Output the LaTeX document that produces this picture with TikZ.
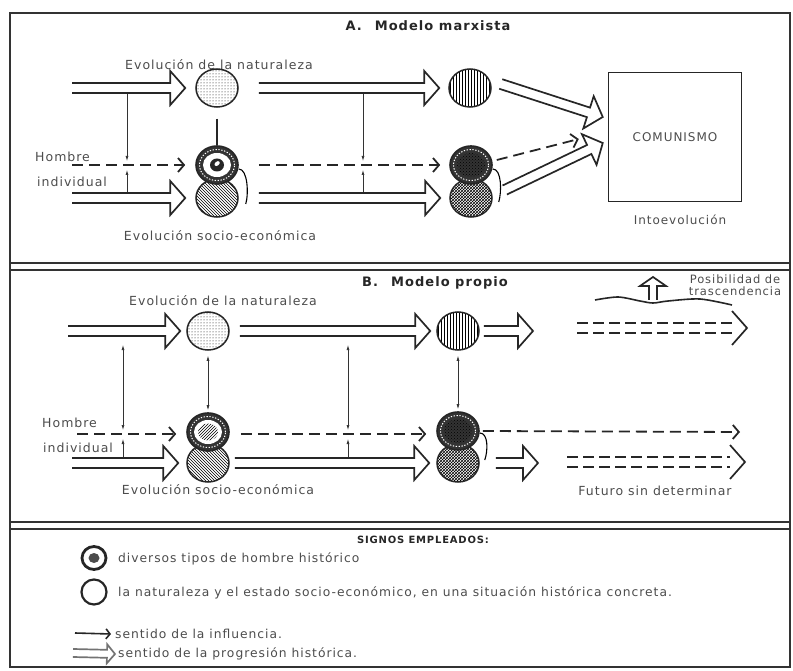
\documentclass[tikz,border=0pt]{standalone}
\usepackage{fontspec}
\setmainfont{DejaVu Sans}[LetterSpace=8]
\usetikzlibrary{arrows.meta,calc,patterns,shapes.geometric}

% open double-lined arrow of the historical progression
\tikzset{
  progdim/.code args={#1/#2/#3}{\def\prgw{#1}\def\prgl{#2}\def\prgW{#3}},
  progdim=5pt/15pt/17pt,
  prog/.style={line width=1.7pt, draw=black!85, to path={
      ($(\tikztostart)!\prgw!90:(\tikztotarget)$)
      -- ($(\tikztotarget)!\prgl!(\tikztostart)!\prgw!90:(\tikztotarget)$)
      -- ($(\tikztotarget)!\prgl!(\tikztostart)!\prgW!90:(\tikztotarget)$)
      -- (\tikztotarget)
      -- ($(\tikztotarget)!\prgl!(\tikztostart)!\prgW!-90:(\tikztotarget)$)
      -- ($(\tikztotarget)!\prgl!(\tikztostart)!\prgw!-90:(\tikztotarget)$)
      -- ($(\tikztostart)!\prgw!-90:(\tikztotarget)$)}},
  progshaft/.style={line width=1.8pt, draw=black!85, dash pattern=on 11pt off 5pt, to path={
      ($(\tikztostart)!\prgw!90:(\tikztotarget)$)
      -- ($(\tikztotarget)!\prgl!(\tikztostart)!\prgw!90:(\tikztotarget)$)
      ($(\tikztostart)!\prgw!-90:(\tikztotarget)$)
      -- ($(\tikztotarget)!\prgl!(\tikztostart)!\prgw!-90:(\tikztotarget)$)}},
  proghead/.style={line width=1.7pt, draw=black!85, to path={
      ($(\tikztotarget)!\prgl!(\tikztostart)!\prgW!90:(\tikztotarget)$)
      -- (\tikztotarget)
      -- ($(\tikztotarget)!\prgl!(\tikztostart)!\prgW!-90:(\tikztotarget)$)}}
}

\newcommand\manring[1]{%
  \draw[white, line width=1pt, dash pattern=on 1.3pt off 1.6pt]
    (#1.center) ellipse [x radius=17.5pt, y radius=15.5pt];}

\begin{document}
\begin{tikzpicture}[x=1pt, y=-1pt,
  frame/.style={line width=1.3pt, draw=black!80},
  lbl/.style={font=\fontsize{12.5}{14}\selectfont, text=black!70, inner sep=0pt},
  ttl/.style={font=\fontsize{13}{15}\selectfont\bfseries, text=black!85, inner sep=0pt},
  key/.style={lbl, font=\fontsize{12.3}{14}\selectfont, anchor=west},
  nat/.style={ellipse, draw=black!85, line width=1.5pt, minimum width=42pt,
              minimum height=38pt, inner sep=0pt},
  man/.style={nat, line width=1.6pt, fill=black!80},
  infl/.style={-{Latex[length=5pt,width=3pt]}, line width=0.7pt, draw=black!80},
  infl2/.style={{Latex[length=5pt,width=3pt]}-{Latex[length=5pt,width=3pt]},
                line width=0.7pt, draw=black!80},
  indiv/.style={line width=1.8pt, draw=black!85, dash pattern=on 11pt off 6pt,
                -{Straight Barb[length=6pt,width=14pt]}}
]
\useasboundingbox (0,0) rectangle (793,671);

%% -- Frame ------------------------------------------------------
\draw[frame] (10,13) rectangle (790,667);
\draw[frame] (10,263) -- (790,263) (10,270) -- (790,270);
\draw[frame] (10,522) -- (790,522) (10,529) -- (790,529);

%% -- A. Modelo marxista -----------------------------------------
\node[ttl] (ttlA) at (428,26) {A.\quad Modelo marxista};
\node[lbl] (labNatA) at (219,65) {Evolución de la naturaleza};
\node[lbl] (labSocA) at (220,236) {Evolución socio-económica};
\node[lbl, anchor=west] (hombreA) at (35,157) {Hombre};
\node[lbl, anchor=west] (indivA) at (37,182) {individual};

\node[nat, pattern=dots] (natA1) at (217,88) {};
\node[nat, pattern=vertical lines] (natA2) at (470,88) {};
\node[nat, pattern=north west lines] (socA1) at (217,198) {};
\node[man] (manA1) at (217,165) {};
\node[nat, pattern=crosshatch] (socA2) at (471,198) {};
\node[man] (manA2) at (471,165) {};

\fill[white] (manA1.center) ellipse [x radius=14pt, y radius=12pt];
\fill[black!85] (manA1.center) ellipse [x radius=7pt, y radius=6.5pt];
\fill[white, rotate around={40:(manA1.center)}] ($(manA1.center)+(1,-1)$) ellipse [x radius=3pt, y radius=2pt];
\manring{manA1}
\fill[pattern=crosshatch dots] (manA2.center) ellipse [x radius=14pt, y radius=12pt];
\manring{manA2}

\node[draw=black!85, line width=1.5pt, minimum width=133pt, minimum height=129pt,
      lbl, font=\fontsize{12}{13}\selectfont] (comun) at (675,137) {COMUNISMO};
\node[lbl, font=\fontsize{12}{13}\selectfont] (intoevo) at (680,220) {Intoevolución};

\coordinate (inNatA) at (72,88);
\coordinate (inManA) at (72,165);
\coordinate (inSocA) at (72,198);
\coordinate (cin1) at ($(comun.west)+(-5,-20)$);
\coordinate (cin2) at ($(comun.west)+(-5,6)$);
\coordinate (cin3) at ($(comun.west)+(-29,2)$);

\draw[prog] (inNatA) to ([xshift=-10pt]natA1.west);
\draw[prog] ([xshift=20pt]natA1.east) to ([xshift=-9pt]natA2.west);
\draw[indiv] (inManA) -- ([xshift=-10pt]manA1.west);
\draw[prog] (inSocA) to ([xshift=-10pt]socA1.west);
\draw[indiv] ([xshift=20pt]manA1.east) -- ([xshift=-9pt]manA2.west);
\draw[prog] ([xshift=20pt]socA1.east) to ([xshift=-9pt]socA2.west);
\draw[prog] ($(natA2.east)+(9,-4)$) to (cin1);
\draw[indiv] ($(manA2.east)+(4,-5)$) -- (cin3);
\draw[prog] ($(socA2.east)+(12,-8)$) to (cin2);

\draw[line width=1.1pt, draw=black!85] ($(natA1.south)+(0,11)$) -- (manA1.north);
\draw[line width=1.1pt] ($(manA1.east)+(0,4)$) .. controls +(9,0) and +(3,-10) .. ($(socA1.east)+(7,6)$);
\draw[line width=1.1pt] ($(manA2.east)+(0,4)$) .. controls +(9,0) and +(3,-10) .. ($(socA2.east)+(6,4)$);

\coordinate (vA1a) at (127,94);  \coordinate (vA1b) at (127,161);
\coordinate (vA1c) at (127,192); \coordinate (vA1d) at (127,170);
\coordinate (vA2a) at (363,94);  \coordinate (vA2b) at (363,161);
\coordinate (vA2c) at (363,192); \coordinate (vA2d) at (363,170);
\draw[infl] (vA1a) -- (vA1b);
\draw[infl] (vA1c) -- (vA1d);
\draw[infl] (vA2a) -- (vA2b);
\draw[infl] (vA2c) -- (vA2d);

%% -- B. Modelo propio -------------------------------------------
\node[ttl] (ttlB) at (435,283) {B.\quad Modelo propio};
\node[lbl] (labNatB) at (223,301) {Evolución de la naturaleza};
\node[lbl] (labSocB) at (218,490) {Evolución socio-económica};
\node[lbl, anchor=west] (hombreB) at (42,423) {Hombre};
\node[lbl, anchor=west] (indivB) at (43,448) {individual};
\node[lbl] (futuro) at (655,491) {Futuro sin determinar};
\node[lbl, align=center, font=\fontsize{11.5}{12.5}\selectfont] (posib) at (735,285)
  {Posibilidad de\\trascendencia};

\node[nat, pattern=dots] (natB1) at (208,331) {};
\node[nat, pattern=vertical lines] (natB2) at (458,331) {};
\node[nat, pattern=north west lines] (socB1) at (208,463) {};
\node[man] (manB1) at (208,432) {};
\node[nat, pattern=crosshatch] (socB2) at (458,463) {};
\node[man] (manB2) at (458,431) {};

\fill[white] (manB1.center) ellipse [x radius=14pt, y radius=12pt];
\fill[pattern=north east lines] (manB1.center) ellipse [x radius=10pt, y radius=8.5pt];
\manring{manB1}
\fill[pattern=crosshatch dots] (manB2.center) ellipse [x radius=14pt, y radius=12pt];
\manring{manB2}

\coordinate (inNatB) at (68,331);
\coordinate (inManB) at (77,434);
\coordinate (inSocB) at (72,463);
\coordinate (outNatB) at (533,331);
\coordinate (outSocB) at (538,463);
\coordinate (trA) at (577,328);  \coordinate (trB) at (747,328);
\coordinate (upA) at (653,300);  \coordinate (upB) at (653,277);
\coordinate (futA) at (740,432);
\coordinate (futB) at (567,462); \coordinate (futC) at (745,462);

\draw[prog] (inNatB) to ([xshift=-6pt]natB1.west);
\draw[prog] ([xshift=10pt]natB1.east) to ([xshift=-6pt]natB2.west);
\draw[prog] ([xshift=4pt]natB2.east) to (outNatB);
\draw[progshaft] (trA) to (trB);
\draw[proghead] (trA) to (trB);
\draw[prog, progdim=4pt/9pt/13pt] (upA) to (upB);
\draw[line width=1.6pt, draw=black!85] plot[smooth] coordinates
  {(595,300) (618,297) (640,301) (653,303) (668,301) (700,299) (732,305)};

\draw[indiv] (inManB) -- ([xshift=-10pt]manB1.west |- inManB);
\draw[prog] (inSocB) to ([xshift=-8pt]socB1.west);
\draw[indiv] ([xshift=11pt]manB1.east |- inManB) -- ([xshift=-10pt]manB2.west |- inManB);
\draw[prog] ([xshift=5pt]socB1.east) to ([xshift=-7pt]socB2.west);
\draw[prog] ([xshift=16pt]socB2.east) to (outSocB);
\draw[indiv] ([xshift=3pt]manB2.east) -- (futA);
\draw[progshaft] (futB) to (futC);
\draw[proghead] (futB) to (futC);
\draw[line width=1.1pt] ($(manB2.east)+(0,2)$) .. controls +(9,0) and +(3,-8) .. ($(socB2.east)+(5,-3)$);

\coordinate (vB1a) at (123,345); \coordinate (vB1b) at (123,430);
\coordinate (vB1c) at (123,457); \coordinate (vB1d) at (123,439);
\coordinate (vB2a) at (348,345); \coordinate (vB2b) at (348,430);
\coordinate (vB2c) at (348,457); \coordinate (vB2d) at (348,439);
\draw[infl2] (vB1a) -- (vB1b);
\draw[infl] (vB1c) -- (vB1d);
\draw[infl2] (vB2a) -- (vB2b);
\draw[infl] (vB2c) -- (vB2d);
\draw[infl2] ($(natB1.south)+(0,5)$) -- ($(manB1.north)+(0,-2)$);
\draw[infl2] ($(natB2.south)+(0,5)$) -- ($(manB2.north)+(0,-2)$);

%% -- Signos empleados -------------------------------------------
\node[ttl, font=\fontsize{10}{12}\selectfont\bfseries] (signos) at (423,540)
  {SIGNOS EMPLEADOS:};
\node[ellipse, draw=black!85, line width=2.8pt, fill=white, minimum width=24pt,
      minimum height=23pt, inner sep=0pt] (keyMan) at (94,558) {};
\fill[black!70] (keyMan.center) ellipse [x radius=5.5pt, y radius=5pt];
\node[ellipse, draw=black!85, line width=2.2pt, minimum width=25pt,
      minimum height=25pt, inner sep=0pt] (keyNat) at (94,592) {};
\node[key] (keyManTxt) at (118,559) {diversos tipos de hombre histórico};
\node[key] (keyNatTxt) at (118,593)
  {la naturaleza y el estado socio-económico, en una situación histórica concreta.};
\node[key] (keyInfTxt) at (115,634) {sentido de la influencia.};
\node[key] (keyProgTxt) at (118,654) {sentido de la progresión histórica.};
\coordinate (keyInfA) at (75,633);
\coordinate (keyProgA) at (73,653);
\draw[line width=1.6pt, draw=black!85, -{Straight Barb[length=4pt,width=10pt]}]
  (keyInfA) -- ([xshift=-4pt]keyInfTxt.west);
\draw[prog, progdim=4pt/8pt/9.5pt, draw=black!55] (keyProgA) to ([xshift=-3pt]keyProgTxt.west);

\end{tikzpicture}
\end{document}
